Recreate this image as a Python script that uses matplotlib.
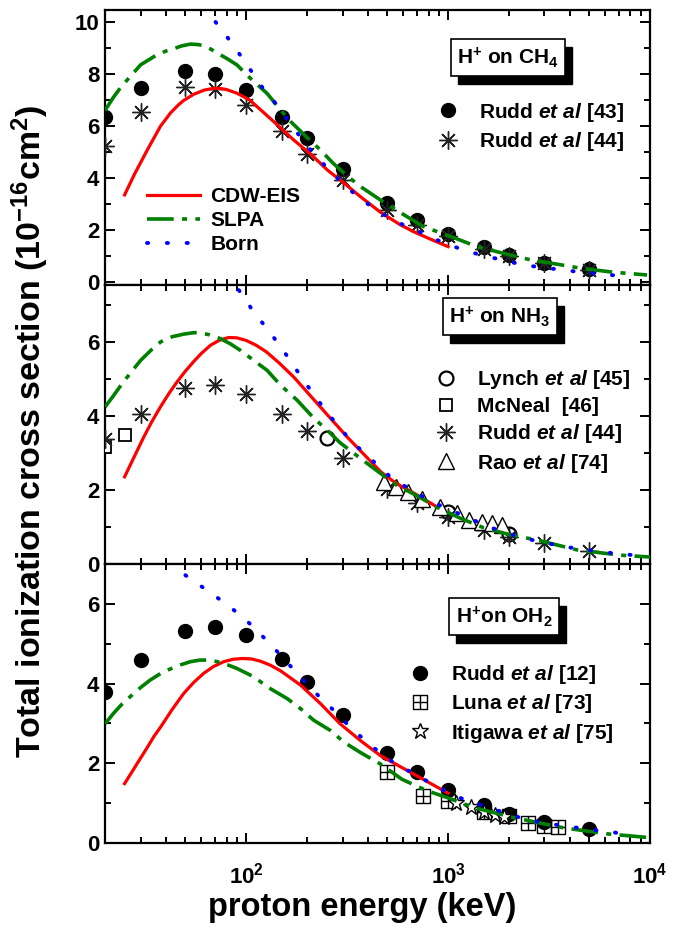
import numpy as np
import matplotlib
matplotlib.use('Agg')
import matplotlib.pyplot as plt
from matplotlib.ticker import MultipleLocator, LogLocator, NullFormatter
from matplotlib.transforms import IdentityTransform
from matplotlib.patches import Rectangle
from matplotlib.path import Path

plt.rcParams['font.family'] = 'Liberation Sans'
plt.rcParams['font.weight'] = 'bold'
plt.rcParams['mathtext.fontset'] = 'custom'
plt.rcParams['mathtext.rm'] = 'Liberation Sans:bold'
plt.rcParams['mathtext.bf'] = 'Liberation Sans:bold'
plt.rcParams['mathtext.it'] = 'Liberation Sans:bold:italic'
plt.rcParams['mathtext.default'] = 'rm'

# ---- H+ on CH4 ----
ch4_rudd43_E = [20, 30, 50, 70, 100, 150, 200, 300, 500, 700, 1000, 1500, 2000, 3000, 5000]
ch4_rudd43 = [6.36, 7.47, 8.13, 8.0, 7.38, 6.36, 5.53, 4.35, 3.05, 2.38, 1.83, 1.33, 1.04, 0.74, 0.49]
ch4_rudd44_E = [20, 30, 50, 70, 100, 150, 200, 300, 500, 700, 1000, 1500, 2000, 3000, 5000]
ch4_rudd44 = [5.24, 6.55, 7.49, 7.41, 6.81, 5.81, 4.92, 3.92, 2.75, 2.2, 1.75, 1.25, 1.0, 0.72, 0.48]
ch4_cdw_E = [25, 28, 32.4, 35, 37.7, 42.2, 46, 49, 55, 62, 69, 75, 80, 90, 104, 118, 140, 172, 210, 252,
             300, 368, 463, 580, 677, 800, 1000]
ch4_cdw = [3.35, 4.15, 5.08, 5.55, 6.0, 6.5, 6.8, 6.98, 7.22, 7.38, 7.45, 7.44, 7.4, 7.26, 7.0, 6.62, 6.1,
           5.46, 4.9, 4.31, 3.85, 3.28, 2.68, 2.2, 1.93, 1.68, 1.36]
ch4_slpa_E = [20, 22, 24, 27, 30, 33, 36, 40, 44, 48, 53, 58, 62, 67, 72, 80, 90, 105, 127, 145, 166, 200,
              233, 270, 320, 368, 463, 600, 755, 1080, 1390, 2000, 2570, 3500, 4540, 6500, 9660]
ch4_slpa = [6.6, 7.1, 7.5, 7.95, 8.35, 8.55, 8.73, 8.88, 8.98, 9.08, 9.15, 9.13, 9.08, 8.95, 8.8, 8.6, 8.35,
            7.83, 7.25, 6.7, 6.17, 5.56, 5.08, 4.56, 4.05, 3.67, 3.15, 2.6, 2.13, 1.69, 1.36, 1.05, 0.85, 0.68,
            0.53, 0.38, 0.27]
ch4_born_E = [70.5, 85, 101, 120, 145, 172, 212, 262, 335, 428, 537, 689, 898, 1125, 1445, 1850, 2370, 3890,
              6240, 7950]
ch4_born = [10.0, 9.18, 8.35, 7.49, 6.72, 5.91, 5.01, 4.24, 3.47, 2.83, 2.36, 2.0, 1.59, 1.30, 1.04, 0.85,
            0.65, 0.44, 0.27, 0.23]

# ---- H+ on NH3 ----
nh3_lynch_E = [250, 1000, 2000]
nh3_lynch = [3.40, 1.40, 0.81]
nh3_mcneal_E = [20, 25]
nh3_mcneal = [3.17, 3.49]
nh3_rudd44_E = [20, 30, 50, 70, 100, 150, 200, 300, 500, 700, 1000, 1500, 2000, 3000, 5000]
nh3_rudd44 = [3.37, 4.07, 4.75, 4.84, 4.61, 4.07, 3.59, 2.87, 2.02, 1.64, 1.26, 0.92, 0.74, 0.56, 0.36]
nh3_rao_E = [480, 550, 630, 740, 915, 1110, 1265, 1470, 1650, 1850]
nh3_rao = [2.22, 2.09, 1.95, 1.77, 1.55, 1.39, 1.19, 1.14, 1.10, 1.05]
nh3_cdw_E = [25, 28, 31, 34, 37.7, 41.5, 45.5, 50, 55, 60, 66.6, 74, 82, 90, 100, 112, 126, 145, 172, 233,
             316, 463, 550, 676, 860]
nh3_cdw = [2.36, 2.92, 3.42, 3.84, 4.26, 4.62, 4.93, 5.22, 5.48, 5.7, 5.92, 6.06, 6.13, 6.12, 6.05, 5.92,
           5.74, 5.45, 5.06, 4.25, 3.44, 2.5, 2.19, 1.92, 1.58]
nh3_slpa_E = [20, 22, 24, 27, 30, 34, 37.7, 43, 49, 55, 59, 66, 74.5, 84, 93.7, 109, 127, 148, 179, 216, 252,
              292, 368, 428, 550, 700, 870, 1150, 1500, 2000, 2750, 4370, 7130, 10000]
nh3_slpa = [4.25, 4.55, 4.84, 5.2, 5.51, 5.8, 6.01, 6.15, 6.22, 6.26, 6.26, 6.2, 6.10, 5.95, 5.78, 5.51, 5.24,
            4.84, 4.43, 3.95, 3.62, 3.28, 2.86, 2.59, 2.15, 1.85, 1.55, 1.24, 0.98, 0.8, 0.65, 0.38, 0.24, 0.19]
nh3_born_E = [92, 109, 132, 157, 186, 220, 266, 328, 420, 517, 676, 900, 1200, 1600, 2280, 3730, 6120, 9840]
nh3_born = [7.41, 6.82, 6.25, 5.68, 5.09, 4.52, 3.94, 3.35, 2.81, 2.36, 1.95, 1.6, 1.3, 1.0, 0.72, 0.47,
            0.31, 0.20]

# ---- H+ on OH2 ----
h2o_rudd12_E = [20, 30, 50, 70, 100, 150, 200, 300, 500, 700, 1000, 1500, 2000, 3000, 5000]
h2o_rudd12 = [3.78, 4.58, 5.31, 5.43, 5.22, 4.61, 4.03, 3.20, 2.25, 1.77, 1.32, 0.95, 0.74, 0.53, 0.34]
h2o_luna_E = [500, 750, 1000, 1500, 2000, 2500, 3000, 3500]
h2o_luna = [1.77, 1.19, 1.06, 0.79, 0.68, 0.51, 0.42, 0.40]
h2o_itigawa_E = [1100, 1300, 1500, 1700, 1900]
h2o_itigawa = [1.0, 0.9, 0.78, 0.70, 0.66]
h2o_cdw_E = [25, 28.5, 32.4, 35, 37.7, 43, 49, 55, 61.7, 69, 77.5, 86, 95.6, 106, 118, 132, 148, 165, 186,
             233, 292, 368, 463, 675, 1000]
h2o_cdw = [1.49, 1.95, 2.40, 2.68, 2.91, 3.35, 3.75, 4.03, 4.26, 4.43, 4.55, 4.61, 4.63, 4.62, 4.56, 4.46,
           4.32, 4.15, 3.96, 3.50, 2.99, 2.57, 2.19, 1.73, 1.25]
h2o_slpa_E = [20, 22, 24, 27.7, 30.5, 33.5, 39, 47.3, 53, 59, 65, 72, 80, 90, 109, 129, 160, 186, 216, 262,
              305, 368, 463, 590, 787, 990, 1340, 2100, 3730, 6120, 9660]
h2o_slpa = [2.99, 3.25, 3.46, 3.75, 3.93, 4.09, 4.30, 4.47, 4.55, 4.59, 4.59, 4.55, 4.48, 4.38, 4.17, 3.90,
            3.62, 3.37, 3.08, 2.82, 2.53, 2.27, 1.98, 1.60, 1.31, 1.14, 0.89, 0.64, 0.38, 0.23, 0.14]
h2o_born_E = [50, 64, 82.6, 105, 133, 167, 209, 266, 338, 428, 537, 898, 1120, 1500, 1850, 2420, 3000, 5000,
              6380, 8130]
h2o_born = [6.72, 6.34, 5.94, 5.49, 4.97, 4.42, 3.88, 3.37, 2.84, 2.39, 2.02, 1.39, 1.15, 0.93, 0.78, 0.59,
            0.5, 0.34, 0.28, 0.19]

fig = plt.figure(figsize=(6.86, 9.44), dpi=100)
ax1 = fig.add_axes([0.1531, 0.6981, 0.7945, 0.2913])
ax2 = fig.add_axes([0.1531, 0.4025, 0.7945, 0.2956])
ax3 = fig.add_axes([0.1531, 0.1070, 0.7945, 0.2955])

# square with a cross inside (Luna et al)
boxplus = Path([(-1, -1), (1, -1), (1, 1), (-1, 1), (-1, -1), (0, -1), (0, 1), (-1, 0), (1, 0)],
               [Path.MOVETO, Path.LINETO, Path.LINETO, Path.LINETO, Path.CLOSEPOLY,
                Path.MOVETO, Path.LINETO, Path.MOVETO, Path.LINETO])
aster = (8, 2, 0)

green_dash = (0, (7.4, 2.3, 1.4, 2.3))
blue_dot = (0, (0.3, 4.8))


def theory(ax, cE, c, sE, s, bE, b):
    l1, = ax.plot(cE, c, color='red', lw=2.3, zorder=4, label='CDW-EIS')
    l2, = ax.plot(sE, s, color='green', lw=2.6, linestyle=green_dash, zorder=4, label='SLPA')
    l3, = ax.plot(bE, b, color='blue', lw=2.8, linestyle=blue_dot, dash_capstyle='round', zorder=4,
                  label='Born')
    return [l1, l2, l3]


def style(ax, ylim, major):
    ax.set_xscale('log')
    ax.set_xlim(20, 10000)
    ax.set_ylim(*ylim)
    ax.yaxis.set_major_locator(MultipleLocator(major))
    ax.yaxis.set_minor_locator(MultipleLocator(major / 2))
    ax.xaxis.set_major_locator(LogLocator(base=10))
    ax.xaxis.set_minor_locator(LogLocator(base=10, subs=np.arange(2, 10)))
    ax.xaxis.set_minor_formatter(NullFormatter())
    ax.tick_params(which='both', direction='in', top=True, right=True, width=1.4, labelsize=16)
    ax.tick_params(which='major', length=7, pad=4)
    ax.tick_params(which='minor', length=4.5)
    ax.tick_params(axis='x', pad=14)
    for sp in ax.spines.values():
        sp.set_linewidth(1.6)


boxes = []


def title_box(ax, x, y, s):
    t = ax.text(x, y, s, transform=ax.transAxes, ha='center', va='center', fontsize=15,
                bbox=dict(boxstyle='square,pad=0.3', fc='white', ec='black', lw=1.2), zorder=7)
    boxes.append((ax, t))


leg_kw = dict(frameon=False, fontsize=15, borderpad=0, borderaxespad=0, handlelength=1.0,
              handletextpad=1.0, labelspacing=0.3, loc='upper left')

# panel 1
p1 = ax1.plot(ch4_rudd43_E, ch4_rudd43, 'o', color='black', ms=10, zorder=2,
              label='Rudd $\\mathit{et\\ al}$ [43]')
p2 = ax1.plot(ch4_rudd44_E, ch4_rudd44, linestyle='none', marker=aster, color='#222222', ms=13, mew=1.0,
              zorder=3, label='Rudd $\\mathit{et\\ al}$ [44]')
lines1 = theory(ax1, ch4_cdw_E, ch4_cdw, ch4_slpa_E, ch4_slpa, ch4_born_E, ch4_born)
style(ax1, (-0.115, 10.46), 2)
ax1.tick_params(axis='x', labelbottom=False)
lg = ax1.legend(handles=lines1, frameon=False, fontsize=15, borderpad=0, borderaxespad=0,
                handlelength=2.55, handletextpad=0.5, labelspacing=0.25, loc='upper left',
                bbox_to_anchor=(0.077, 0.357))
ax1.add_artist(lg)
ax1.legend(handles=p1 + p2, bbox_to_anchor=(0.61, 0.67), **leg_kw)
title_box(ax1, 0.739, 0.826, 'H$^{+}$ on CH$_{4}$')

# panel 2
q1 = ax2.plot(nh3_lynch_E, nh3_lynch, 'o', mfc='white', mec='black', ms=10, mew=1.6, zorder=3,
              label='Lynch $\\mathit{et\\ al}$ [45]')
q2 = ax2.plot(nh3_mcneal_E, nh3_mcneal, 's', mfc='white', mec='black', ms=8.5, mew=1.3, zorder=3,
              label='McNeal  [46]')
q3 = ax2.plot(nh3_rudd44_E, nh3_rudd44, linestyle='none', marker=aster, color='#222222', ms=13, mew=1.0,
              zorder=3, label='Rudd $\\mathit{et\\ al}$ [44]')
q4 = ax2.plot(nh3_rao_E, nh3_rao, '^', mfc='white', mec='black', ms=12, mew=1.0, zorder=3,
              label='Rao $\\mathit{et\\ al}$ [74]')
theory(ax2, nh3_cdw_E, nh3_cdw, nh3_slpa_E, nh3_slpa, nh3_born_E, nh3_born)
style(ax2, (0, 7.55), 2)
ax2.tick_params(axis='x', labelbottom=False)
ax2.legend(handles=q1 + q2 + q3 + q4, bbox_to_anchor=(0.606, 0.703), **leg_kw)
title_box(ax2, 0.724, 0.887, 'H$^{+}$ on NH$_{3}$')

# panel 3
r1 = ax3.plot(h2o_rudd12_E, h2o_rudd12, 'o', color='black', ms=10, zorder=2,
              label='Rudd $\\mathit{et\\ al}$ [12]')
r2 = ax3.plot(h2o_luna_E, h2o_luna, linestyle='none', marker=boxplus, mfc='none', mec='black', ms=10,
              mew=1.0, zorder=3, label='Luna $\\mathit{et\\ al}$ [73]')
r3 = ax3.plot(h2o_itigawa_E, h2o_itigawa, '*', mfc='white', mec='black', ms=12, mew=1.0, zorder=3,
              label='Itigawa $\\mathit{et\\ al}$ [75]')
theory(ax3, h2o_cdw_E, h2o_cdw, h2o_slpa_E, h2o_slpa, h2o_born_E, h2o_born)
style(ax3, (0, 7.0), 2)
ax3.legend(handles=r1 + r2 + r3, bbox_to_anchor=(0.558, 0.645), **leg_kw)
title_box(ax3, 0.732, 0.811, 'H$^{+}$on OH$_{2}$')

fig.text(0.044, 0.543, 'Total ionization cross section (10$^{-16}$cm$^{2}$)', rotation=90,
         ha='center', va='center', fontsize=24.5)
fig.text(0.528, 0.039, 'proton energy (keV)', ha='center', va='center', fontsize=23.5)

# black drop shadow behind each label box
fig.canvas.draw()
for ax, t in boxes:
    bb = t.get_bbox_patch().get_window_extent()
    ax.add_patch(Rectangle((bb.x0 + 7, bb.y0 - 8), bb.width, bb.height, transform=IdentityTransform(),
                           fc='black', ec='black', zorder=6, clip_on=False))

fig.savefig('out.png', dpi=100)
